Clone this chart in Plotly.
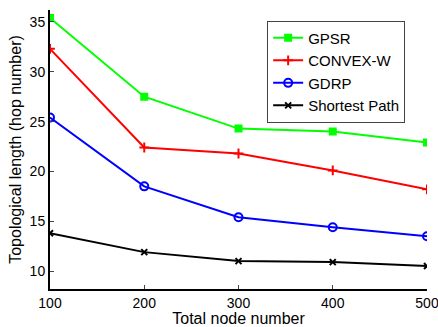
import plotly.graph_objects as go

nodes = [100, 200, 300, 400, 500]
gpsr = [35.4, 27.5, 24.3, 24.0, 22.9]
convex_w = [32.3, 22.4, 21.8, 20.1, 18.2]
gdrp = [25.4, 18.5, 15.4, 14.4, 13.5]
shortest = [13.8, 11.9, 11.0, 10.9, 10.5]

series = [
    ("GPSR", gpsr, "#00ff00", "square", 6),
    ("CONVEX-W", convex_w, "#ff0000", "cross-thin", 7),
    ("GDRP", gdrp, "#0000ff", "circle-open", 8),
    ("Shortest Path", shortest, "#000000", "x-thin", 6),
]

fig = go.Figure()
for name, vals, color, sym, sz in series:
    fig.add_trace(go.Scatter(
        x=nodes, y=vals, name=name, mode="lines+markers",
        line=dict(color=color, width=2),
        marker=dict(symbol=sym, size=sz, color=color,
                    line=dict(color=color, width=2)),
    ))

font = "Liberation Sans, Arial, sans-serif"
fig.update_layout(
    width=438, height=327,
    margin=dict(l=50, r=11, t=10, b=38, autoexpand=False),
    paper_bgcolor="white", plot_bgcolor="white",
    font=dict(family=font, size=13, color="black"),
    showlegend=True,
    legend=dict(x=0.576, y=0.962, xanchor="left", yanchor="top",
                bgcolor="white", bordercolor="#444", borderwidth=1,
                font=dict(size=15), tracegroupgap=0, itemwidth=30),
    xaxis=dict(range=[100, 500], tickvals=nodes, ticks="inside", ticklen=4,
               showline=True, linecolor="black", linewidth=2, showgrid=False,
               zeroline=False, title=dict(text="Total node number", standoff=2),
               tickfont=dict(size=14), ticklabeloverflow="allow", automargin=False),
    yaxis=dict(range=[8.2, 36.2], tickvals=[10, 15, 20, 25, 30, 35], ticks="inside",
               ticklen=4, showline=True, linecolor="black", linewidth=2,
               showgrid=False, zeroline=False, automargin=False,
               title=dict(text="Topological length (hop number)", standoff=4),
               tickfont=dict(size=14)),
)
fig.write_html("out.html")
